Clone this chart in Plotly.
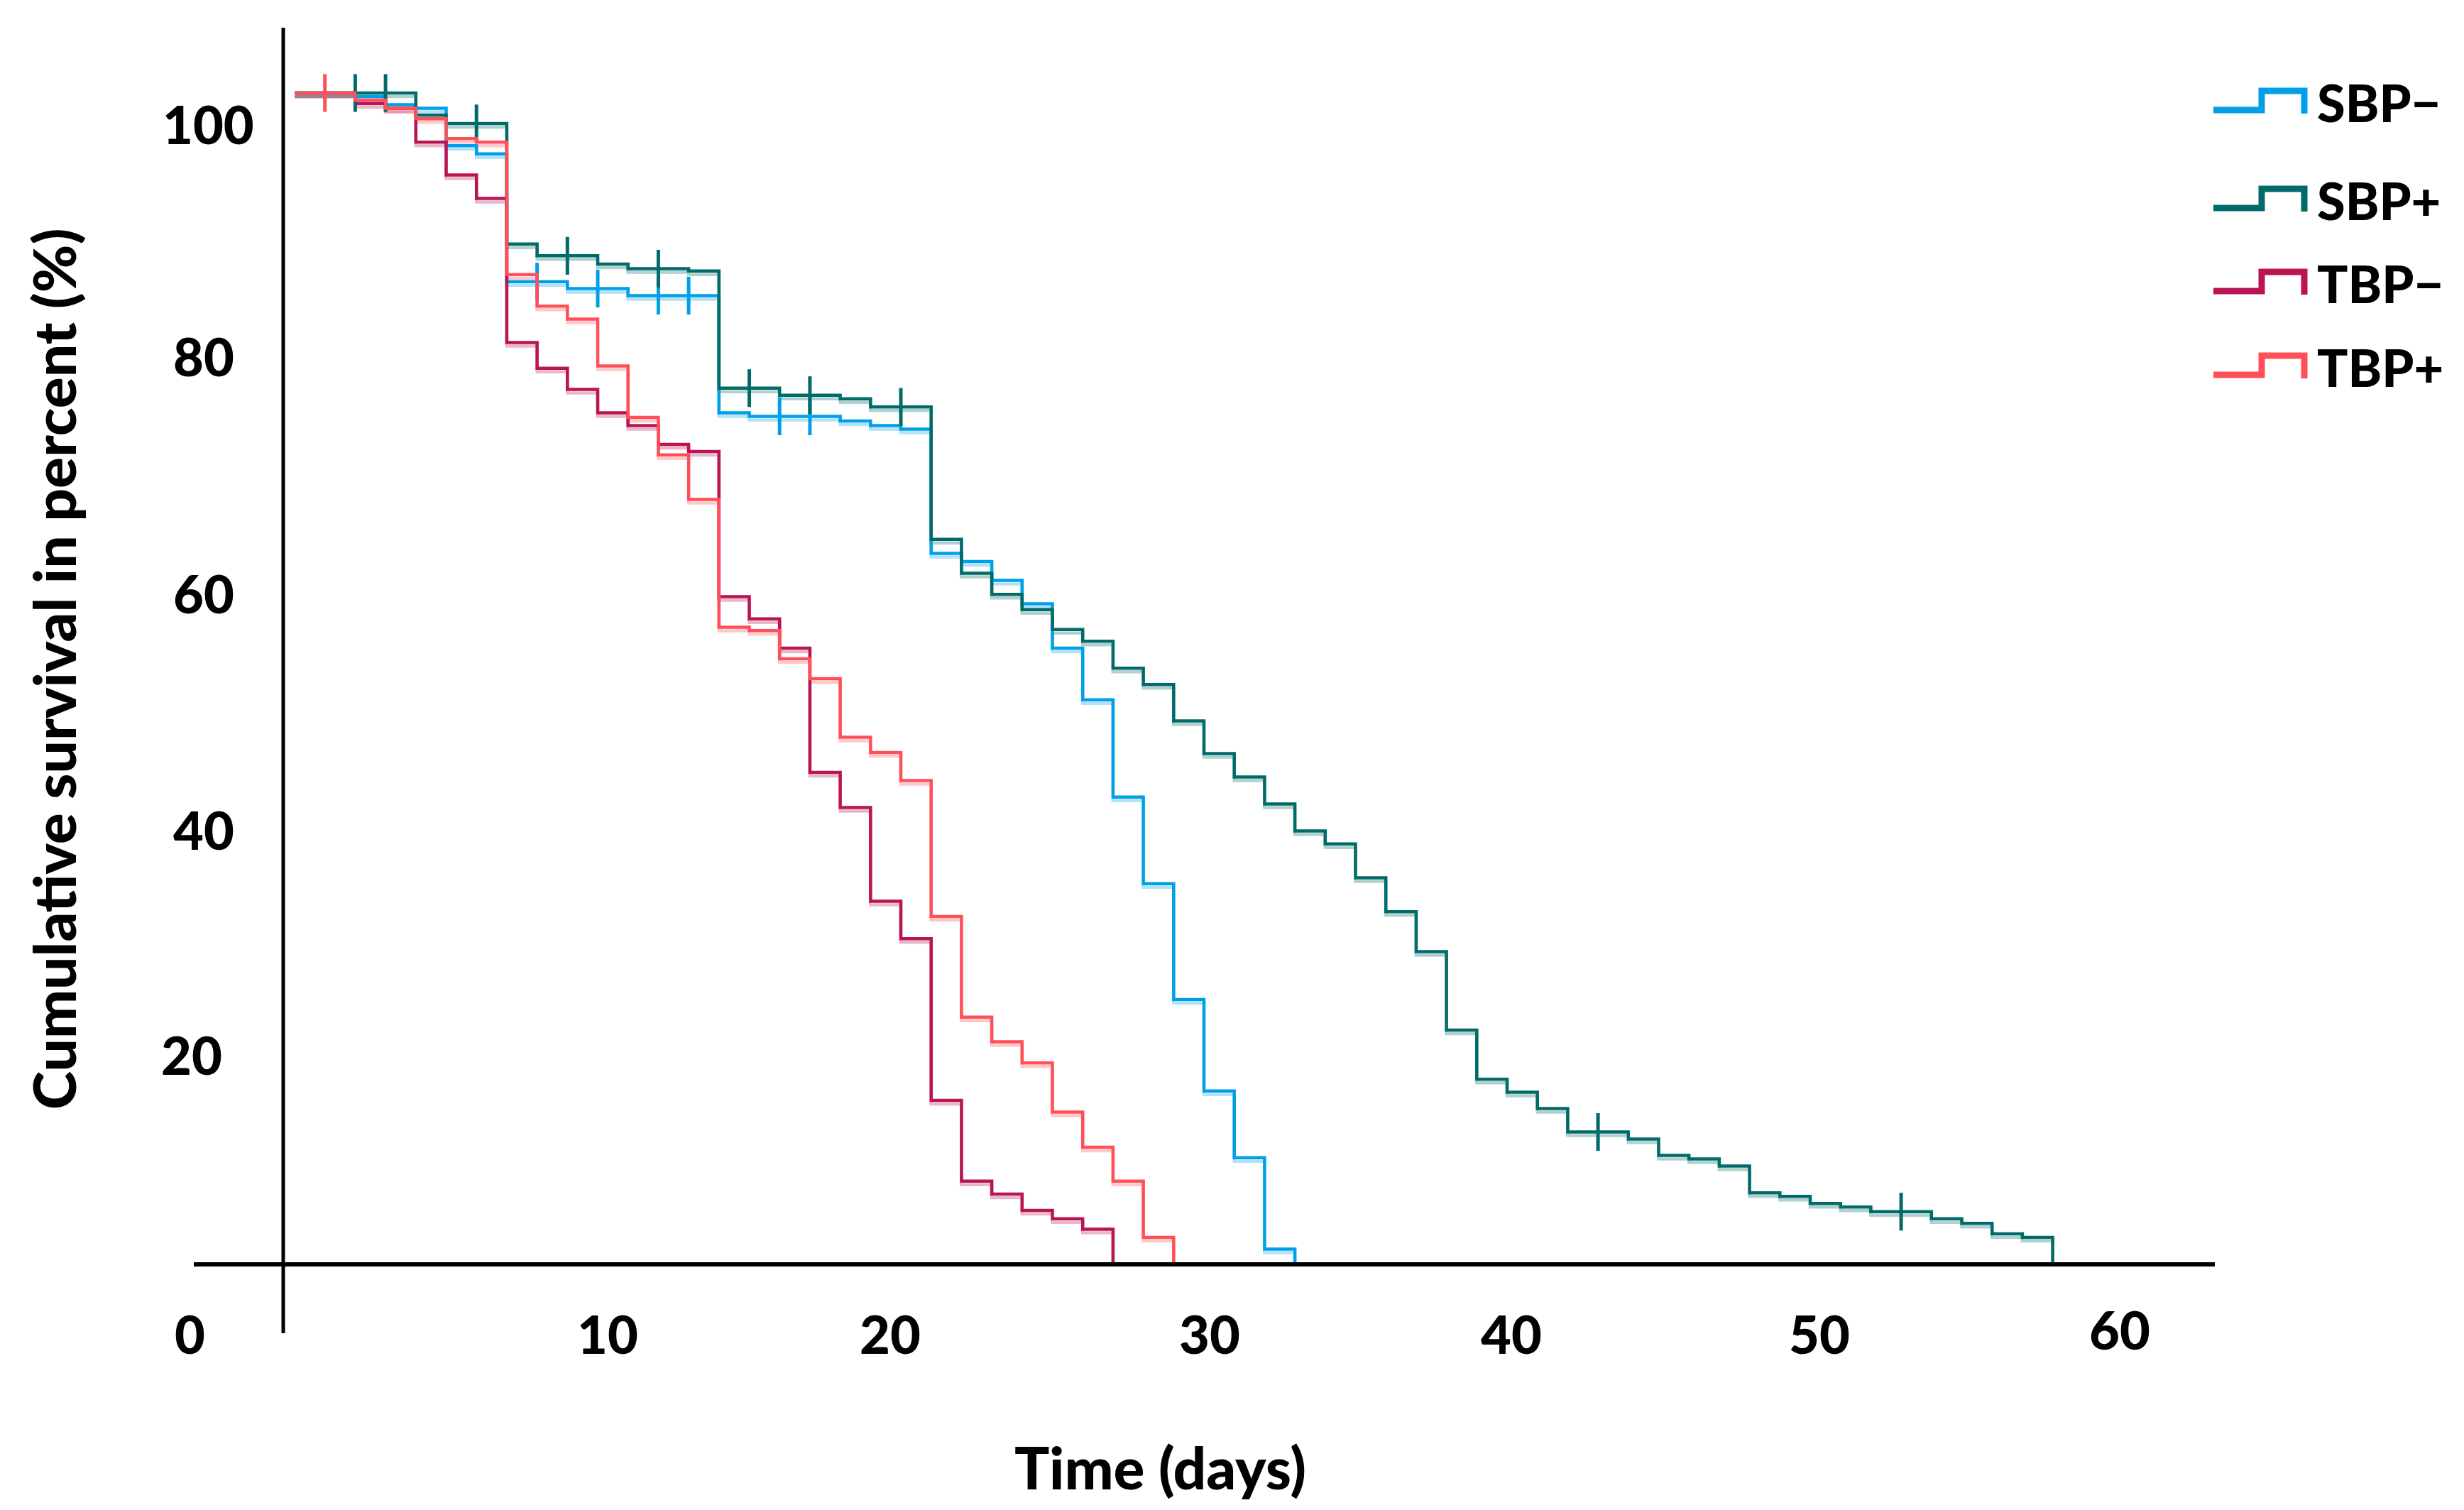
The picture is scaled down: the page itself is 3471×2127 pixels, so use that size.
import plotly.graph_objects as go

# ---------------- data ----------------
series_names = ["SBP\u2212", "SBP+", "TBP\u2212", "TBP+"]

sbp_minus_days = [0, 2, 3, 4, 5, 6, 7, 9, 11, 14, 15, 18, 19, 20, 21, 22, 23, 24, 25, 26, 27, 28, 29, 30, 31, 32, 33]
sbp_minus_surv = [100, 99.7, 99.0, 98.7, 95.5, 94.8, 83.9, 83.3, 82.7, 72.7, 72.4, 72.0, 71.6, 71.3, 60.7, 60.0, 58.4,
                  56.4, 52.6, 48.2, 39.9, 32.5, 22.6, 14.8, 9.1, 1.3, 0]
sbp_minus_censor = [8, 10, 12, 13, 16, 17]

sbp_plus_days = [0, 4, 5, 7, 8, 10, 11, 13, 14, 16, 18, 19, 21, 22, 23, 24, 25, 26, 27, 28, 29, 30, 31, 32, 33, 34,
                 35, 36, 37, 38, 39, 40, 41, 42, 44, 45, 46, 47, 48, 49, 50, 51, 52, 54, 55, 56, 57, 58]
sbp_plus_surv = [100, 98.1, 97.4, 87.1, 86.1, 85.4, 85.0, 84.8, 74.8, 74.2, 73.9, 73.2, 61.9, 59.0, 57.2, 55.9, 54.2,
                 53.2, 50.9, 49.5, 46.4, 43.6, 41.6, 39.3, 37.0, 35.9, 33.0, 30.1, 26.7, 20.0, 15.8, 14.7, 13.3, 11.3,
                 10.7, 9.3, 9.0, 8.4, 6.1, 5.8, 5.2, 4.9, 4.5, 3.9, 3.5, 2.6, 2.3, 0]
sbp_plus_censor = [2, 3, 6, 9, 12, 15, 17, 20, 43, 53]

tbp_minus_days = [0, 2, 3, 4, 5, 6, 7, 8, 9, 10, 11, 12, 13, 14, 15, 16, 17, 18, 19, 20, 21, 22, 23, 24, 25, 26, 27]
tbp_minus_surv = [100, 99.1, 98.7, 95.8, 93.0, 91.0, 78.7, 76.5, 74.7, 72.7, 71.6, 70.0, 69.4, 57.0, 55.1, 52.6, 42.0,
                  39.0, 31.0, 27.8, 14.0, 7.1, 6.0, 4.6, 3.9, 3.0, 0]
tbp_minus_censor = []

tbp_plus_days = [0, 2, 3, 4, 5, 6, 7, 8, 9, 10, 11, 12, 13, 14, 15, 16, 17, 18, 19, 20, 21, 22, 23, 24, 25, 26, 27,
                 28, 29]
tbp_plus_surv = [100, 99.4, 98.7, 97.8, 96.1, 95.8, 84.5, 81.8, 80.7, 76.7, 72.3, 69.1, 65.3, 54.4, 54.1, 51.7, 50.0,
                 45.0, 43.7, 41.3, 29.7, 21.1, 19.0, 17.2, 13.0, 10.0, 7.1, 2.3, 0]
tbp_plus_censor = [1]

x_tick_labels = ["0", "10", "20", "30", "40", "50", "60"]
y_tick_labels = ["100", "80", "60", "40", "20"]
x_title = "Time (days)"
y_title = "Cumulative survival in percent (%)"

# ---------------- styling / geometry ----------------
colors = {"SBP\u2212": "#00A0E8", "SBP+": "#006B68", "TBP\u2212": "#BA1455", "TBP+": "#FF505A"}
W, H = 3471, 2127
PLOT_L, PLOT_R, PLOT_T, PLOT_B = 265, 3112, 31, 1870
X_ZERO_PX, PX_PER_DAY = 407, 42.7
Y_ZERO_PX, PX_PER_PCT = 1773, 16.5
FONT = "Lato, 'Open Sans', 'DejaVu Sans', sans-serif"
FS_TICK = 74
FS_TITLE = 82
FS_LEG = 72

x_range = [(PLOT_L - X_ZERO_PX) / PX_PER_DAY, (PLOT_R - X_ZERO_PX) / PX_PER_DAY]
y_range = [(Y_ZERO_PX - PLOT_B) / PX_PER_PCT, (Y_ZERO_PX - PLOT_T) / PX_PER_PCT]


def px(xp, yp):
    return (xp - PLOT_L) / (PLOT_R - PLOT_L), (PLOT_B - yp) / (PLOT_B - PLOT_T)


def surv_at(days, surv, t):
    v = surv[0]
    for d, s in zip(days, surv):
        if d <= t:
            v = s
    return v


def bold_font(size):
    return dict(family=FONT, size=size, color="black", weight=900)


series = [
    ("SBP\u2212", sbp_minus_days, sbp_minus_surv, sbp_minus_censor),
    ("TBP\u2212", tbp_minus_days, tbp_minus_surv, tbp_minus_censor),
    ("SBP+", sbp_plus_days, sbp_plus_surv, sbp_plus_censor),
    ("TBP+", tbp_plus_days, tbp_plus_surv, tbp_plus_censor),
]

fig = go.Figure()
shadow_offset = 5 / PX_PER_PCT
for name, d, s, c in series:
    col = colors[name]
    # faint doubled line (as in the reference rendering)
    fig.add_trace(go.Scatter(x=d, y=[v - shadow_offset if v > 0 else v for v in s], mode="lines",
                             line=dict(color=col, width=4.5, shape="hv"), opacity=0.3,
                             showlegend=False, hoverinfo="skip"))
for name, d, s, c in series:
    col = colors[name]
    fig.add_trace(go.Scatter(x=d, y=s, mode="lines", name=name,
                             line=dict(color=col, width=4.5, shape="hv"), showlegend=False))
    if c:
        fig.add_trace(go.Scatter(x=c, y=[surv_at(d, s, t) for t in c], mode="markers",
                                 marker=dict(symbol="line-ns-open", size=38, color=col,
                                             line=dict(color=col, width=5)),
                                 showlegend=False, hoverinfo="skip"))

shapes = [
    # x axis line
    dict(type="line", xref="paper", yref="y", x0=0, x1=1, y0=0, y1=0, line=dict(color="black", width=6)),
    # y axis line
    dict(type="line", xref="x", yref="paper", x0=(391 - X_ZERO_PX) / PX_PER_DAY, x1=(391 - X_ZERO_PX) / PX_PER_DAY,
         y0=0, y1=1, line=dict(color="black", width=5)),
]

annotations = []
# x tick labels
x_tick_px = [259, 848, 1246, 1696, 2121, 2555, 2978]
x_tick_py = [1870, 1870, 1870, 1870, 1870, 1870, 1864]
for lab, xp, yp in zip(x_tick_labels, x_tick_px, x_tick_py):
    ax, ay = px(xp, yp)
    annotations.append(dict(text=lab, x=ax, y=ay, xref="paper", yref="paper", showarrow=False,
                            xanchor="center", yanchor="middle", font=bold_font(FS_TICK)))
# y tick labels
y_tick_px = [285, 279, 279, 279, 262]
y_tick_py = [167, 493, 828, 1160, 1477]
for lab, xp, yp in zip(y_tick_labels, y_tick_px, y_tick_py):
    ax, ay = px(xp, yp)
    annotations.append(dict(text=lab, x=ax, y=ay, xref="paper", yref="paper", showarrow=False,
                            xanchor="center", yanchor="middle", font=bold_font(FS_TICK)))
# axis titles
ax, ay = px(1626, 2058)
annotations.append(dict(text=x_title, x=ax, y=ay, xref="paper", yref="paper", showarrow=False,
                        xanchor="center", yanchor="middle", font=bold_font(FS_TITLE)))
ax, ay = px(67, 935)
annotations.append(dict(text=y_title, x=ax, y=ay, xref="paper", yref="paper", showarrow=False,
                        textangle=-90, xanchor="center", yanchor="middle", font=bold_font(FS_TITLE)))

# custom legend with step icons
legend_order = ["SBP\u2212", "SBP+", "TBP\u2212", "TBP+"]
legend_py = [136, 274, 391, 509]
for name, yc in zip(legend_order, legend_py):
    pts = [(3110, yc + 11), (3178, yc + 11), (3178, yc - 16), (3238, yc - 16), (3238, yc + 16)]
    path = "M " + " L ".join("%.5f,%.5f" % px(a, b) for a, b in pts)
    shapes.append(dict(type="path", xref="paper", yref="paper", path=path,
                       line=dict(color=colors[name], width=9)))
    ax, ay = px(3254, yc)
    annotations.append(dict(text=name, x=ax, y=ay, xref="paper", yref="paper", showarrow=False,
                            xanchor="left", yanchor="middle", font=bold_font(FS_LEG)))

fig.update_layout(
    width=W, height=H,
    margin=dict(l=PLOT_L, r=W - PLOT_R, t=PLOT_T, b=H - PLOT_B, autoexpand=False),
    paper_bgcolor="white", plot_bgcolor="white",
    showlegend=False,
    xaxis=dict(range=x_range, showgrid=False, zeroline=False, showline=False, showticklabels=False, ticks=""),
    yaxis=dict(range=y_range, showgrid=False, zeroline=False, showline=False, showticklabels=False, ticks=""),
    shapes=shapes, annotations=annotations,
)

fig.write_html("out.html")
